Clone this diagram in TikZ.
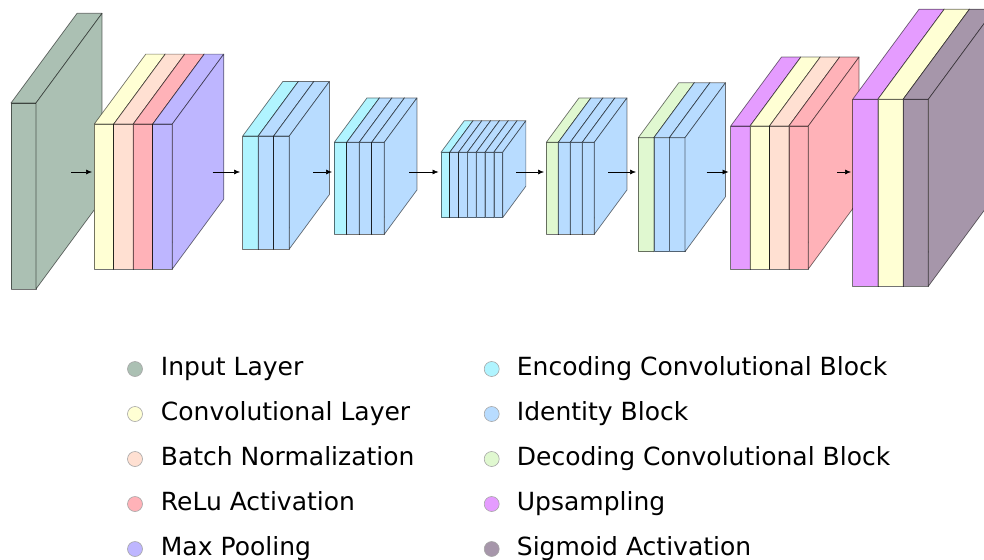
\documentclass[tikz,border=0pt]{standalone}
\usepackage{fontspec}
\setmainfont{DejaVu Sans}
\usetikzlibrary{arrows.meta}
\definecolor{inputc}{RGB}{171,192,179}
\definecolor{convc}{RGB}{255,255,212}
\definecolor{bnc}{RGB}{255,224,210}
\definecolor{reluc}{RGB}{255,178,184}
\definecolor{poolc}{RGB}{190,182,255}
\definecolor{encc}{RGB}{176,244,255}
\definecolor{idc}{RGB}{184,220,255}
\definecolor{decc}{RGB}{224,248,208}
\definecolor{upc}{RGB}{229,156,255}
\definecolor{sigc}{RGB}{166,150,170}

\tikzset{
  edge/.style={draw=black, draw opacity=0.55, line width=0.7pt, line join=round},
  flow/.style={-{Latex[length=6pt,width=5pt]}, line width=0.6pt},
  dot/.style={circle, draw=black!35, line width=0.6pt, minimum size=15pt, inner sep=0pt},
  entry/.style={anchor=base west, inner sep=0pt, font=\fontsize{25}{30}\selectfont},
}

% one slab: x, top, height, width, colour
\newcommand{\slab}[5]{%
  \pgfmathsetmacro{\slabdx}{0.355*#3}
  \pgfmathsetmacro{\slabdy}{0.482*#3}
  \filldraw[edge, fill=#5] (#1,#2) rectangle ++(#4,#3);
  \filldraw[edge, fill=#5] (#1,#2) -- ++(\slabdx,-\slabdy) -- ++(#4,0) -- ++(-\slabdx,\slabdy) -- cycle;
  \filldraw[edge, fill=#5] (#1+#4,#2) -- ++(\slabdx,-\slabdy) -- ++(0,#3) -- ++(-\slabdx,\slabdy) -- cycle;
}

% a block of slabs: x, top, height, slab width, colours
\newcommand{\block}[5]{%
  \foreach \col [count=\i from 0] in {#5} {
    \slab{#1+\i*#4}{#2}{#3}{#4}{\col}
  }
}

\begin{document}
\begin{tikzpicture}[x=1pt, y=-1pt]
  \useasboundingbox (0,0) rectangle (984,559);

  % Input layer
  \block{11}{103}{186}{25}{inputc}
  \coordinate (out1) at (71,172);
  \coordinate (in2) at (92,172);
  \draw[flow] (out1) -- (in2);

  % First convolution stage
  \block{94.3}{124}{145}{19.5}{convc,bnc,reluc,poolc}
  \coordinate (out2) at (212.7,172);
  \coordinate (in3) at (240,172);
  \draw[flow] (out2) -- (in3);

  % Encoding blocks
  \block{242.7}{136}{113}{15.53}{encc,idc,idc}
  \coordinate (out3) at (313,172);
  \coordinate (in4) at (332,172);
  \draw[flow] (out3) -- (in4);

  \block{334.3}{142.3}{92}{12.5}{encc,idc,idc,idc}
  \coordinate (out4) at (409.3,172);
  \coordinate (in5) at (438.5,172);
  \draw[flow] (out4) -- (in5);

  \block{441}{152.3}{65.4}{8.81}{encc,idc,idc,idc,idc,idc,idc}
  \coordinate (out5) at (516,172);
  \coordinate (in6) at (544,172);
  \draw[flow] (out5) -- (in6);

  % Decoding blocks
  \block{546.3}{142.3}{92}{12}{decc,idc,idc,idc}
  \coordinate (out6) at (608,172);
  \coordinate (in7) at (636,172);
  \draw[flow] (out6) -- (in7);

  \block{638.3}{137.7}{114}{15.57}{decc,idc,idc}
  \coordinate (out7) at (706.7,172);
  \coordinate (in8) at (728.5,172);
  \draw[flow] (out7) -- (in8);

  % Upsampling stages
  \block{730.7}{126}{143}{19.4}{upc,convc,bnc,reluc}
  \coordinate (out8) at (837.3,172);
  \coordinate (in9) at (851,172);
  \draw[flow] (out8) -- (in9);

  \block{852.7}{99.3}{187}{25.2}{upc,convc,sigc}

  % Legend
  \foreach \c/\t [count=\k from 0] in {inputc/Input Layer, convc/Convolutional Layer,
      bnc/Batch Normalization, reluc/ReLu Activation, poolc/Max Pooling} {
    \node[dot, fill=\c] (dotL\k) at (135,369+45*\k) {};
    \node[entry] (txtL\k) at (160.7,375+45*\k) {\t};
  }
  \foreach \c/\t [count=\k from 0] in {encc/Encoding Convolutional Block, idc/Identity Block,
      decc/Decoding Convolutional Block, upc/Upsampling, sigc/Sigmoid Activation} {
    \node[dot, fill=\c] (dotR\k) at (491.7,369+45*\k) {};
    \node[entry] (txtR\k) at (516.7,375+45*\k) {\t};
  }
\end{tikzpicture}
\end{document}
